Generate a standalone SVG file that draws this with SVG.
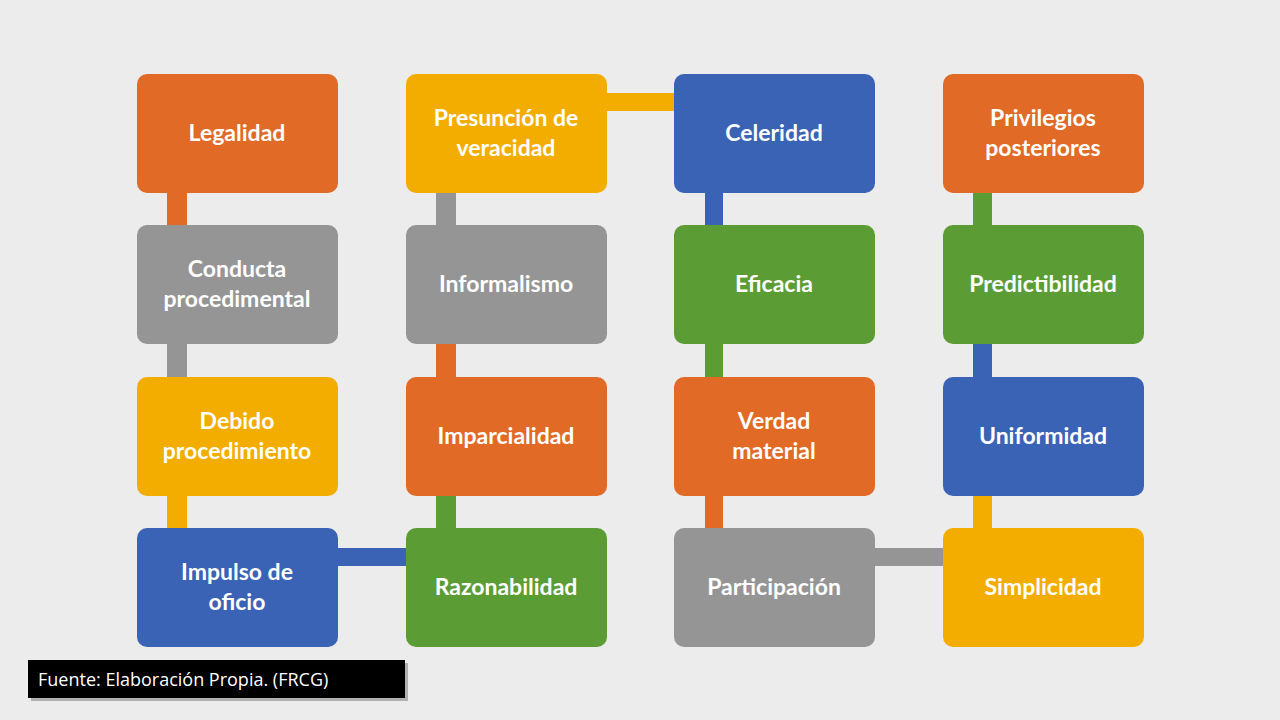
<svg xmlns="http://www.w3.org/2000/svg" width="1280" height="720" viewBox="0 0 1280 720">
<style>
.n{stroke:none}
.t{font-family:Lato,"Liberation Sans",sans-serif;font-weight:bold;font-size:23px;fill:#fff;text-anchor:middle}
.o{fill:#e06a26}.g{fill:#959595}.y{fill:#f2ad00}.b{fill:#3a63b5}.gr{fill:#5c9c35}
</style>
<rect width="1280" height="720" fill="#ececec"/>
<g id="connectors">
<rect class="o" x="167" y="193" width="20" height="32"/>
<rect class="g" x="167" y="344" width="20" height="33"/>
<rect class="y" x="167" y="496" width="20" height="32"/>
<rect class="b" x="338" y="548" width="68" height="18"/>
<rect class="gr" x="436" y="496" width="20" height="32"/>
<rect class="o" x="436" y="344" width="20" height="33"/>
<rect class="g" x="436" y="193" width="20" height="32"/>
<rect class="y" x="607" y="93" width="67" height="18"/>
<rect class="b" x="705" y="193" width="18" height="32"/>
<rect class="gr" x="705" y="344" width="18" height="33"/>
<rect class="o" x="705" y="496" width="18" height="32"/>
<rect class="g" x="875" y="548" width="68" height="18"/>
<rect class="y" x="973" y="496" width="19" height="32"/>
<rect class="b" x="973" y="344" width="19" height="33"/>
<rect class="gr" x="973" y="193" width="19" height="32"/>
</g>
<g id="n1"><rect class="o" x="137" y="74" width="201" height="119" rx="10"/><text class="t" x="237" y="141">Legalidad</text></g>
<g id="n2"><rect class="g" x="137" y="225" width="201" height="119" rx="10"/><text class="t" x="237" y="277">Conducta</text><text class="t" x="237" y="307">procedimental</text></g>
<g id="n3"><rect class="y" x="137" y="377" width="201" height="119" rx="10"/><text class="t" x="237" y="429">Debido</text><text class="t" x="237" y="459">procedimiento</text></g>
<g id="n4"><rect class="b" x="137" y="528" width="201" height="119" rx="10"/><text class="t" x="237" y="580">Impulso de</text><text class="t" x="237" y="610">oficio</text></g>
<g id="n5"><rect class="y" x="406" y="74" width="201" height="119" rx="10"/><text class="t" x="506" y="126">Presunción de</text><text class="t" x="506" y="156">veracidad</text></g>
<g id="n6"><rect class="g" x="406" y="225" width="201" height="119" rx="10"/><text class="t" x="506" y="292">Informalismo</text></g>
<g id="n7"><rect class="o" x="406" y="377" width="201" height="119" rx="10"/><text class="t" x="506" y="444">Imparcialidad</text></g>
<g id="n8"><rect class="gr" x="406" y="528" width="201" height="119" rx="10"/><text class="t" x="506" y="595">Razonabilidad</text></g>
<g id="n9"><rect class="b" x="674" y="74" width="201" height="119" rx="10"/><text class="t" x="774" y="141">Celeridad</text></g>
<g id="n10"><rect class="gr" x="674" y="225" width="201" height="119" rx="10"/><text class="t" x="774" y="292">Eficacia</text></g>
<g id="n11"><rect class="o" x="674" y="377" width="201" height="119" rx="10"/><text class="t" x="774" y="429">Verdad</text><text class="t" x="774" y="459">material</text></g>
<g id="n12"><rect class="g" x="674" y="528" width="201" height="119" rx="10"/><text class="t" x="774" y="595">Participación</text></g>
<g id="n13"><rect class="o" x="943" y="74" width="201" height="119" rx="10"/><text class="t" x="1043" y="126">Privilegios</text><text class="t" x="1043" y="156">posteriores</text></g>
<g id="n14"><rect class="gr" x="943" y="225" width="201" height="119" rx="10"/><text class="t" x="1043" y="292">Predictibilidad</text></g>
<g id="n15"><rect class="b" x="943" y="377" width="201" height="119" rx="10"/><text class="t" x="1043" y="444">Uniformidad</text></g>
<g id="n16"><rect class="y" x="943" y="528" width="201" height="119" rx="10"/><text class="t" x="1043" y="595">Simplicidad</text></g>
<g id="caption"><rect x="31" y="663" width="377" height="38" fill="#888" opacity="0.6"/><rect x="28" y="660" width="377" height="38" fill="#000"/><text x="38" y="686" font-family="'Open Sans','Liberation Sans',sans-serif" font-size="18" fill="#fff">Fuente: Elaboración Propia. (FRCG)</text></g>
</svg>
